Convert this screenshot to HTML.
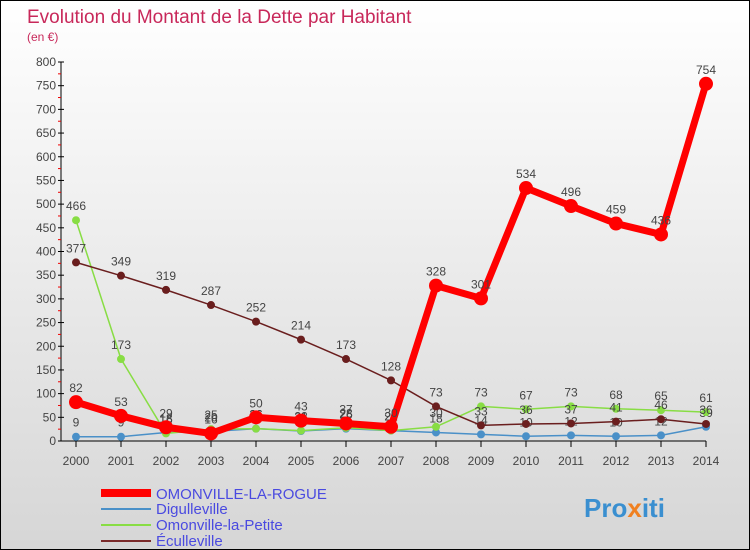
<!DOCTYPE html>
<html><head><meta charset="utf-8"><style>
body{margin:0}
#c{width:750px;height:550px;position:relative;overflow:hidden;box-sizing:border-box;border:1px solid #000;background:linear-gradient(#ffffff,#d6d6d6);font-family:"Liberation Sans",sans-serif}
</style></head><body>
<div id="c">
<svg id="s" width="750" height="550" style="position:absolute;left:0;top:0">
<text x="26" y="22" font-size="19" fill="#c8285a">Evolution du Montant de la Dette par Habitant</text>
<text x="26" y="40" font-size="12" fill="#c8285a">(en €)</text>
<g id="ax"></g><g id="ser"></g>
<g>
<line x1="100" y1="492" x2="150" y2="492" stroke="#ff0000" stroke-width="8"/>
<text x="155" y="498" font-size="15" fill="#4a4ae0">OMONVILLE-LA-ROGUE</text>
<line x1="100" y1="508" x2="150" y2="508" stroke="#4a90c8" stroke-width="2"/>
<text x="155" y="513" font-size="15" fill="#4a4ae0">Digulleville</text>
<line x1="100" y1="524" x2="150" y2="524" stroke="#88dd44" stroke-width="2"/>
<text x="155" y="529" font-size="15" fill="#4a4ae0">Omonville-la-Petite</text>
<line x1="100" y1="540" x2="150" y2="540" stroke="#7a2a2a" stroke-width="2"/>
<text x="155" y="545" font-size="15" fill="#4a4ae0">Éculleville</text>
</g>
<text x="583" y="516" font-size="26" font-weight="bold" fill="#3a8fd0">Pro<tspan fill="#f08020">x</tspan>iti</text>
</svg>
</div>
<script>
const years=[2000,2001,2002,2003,2004,2005,2006,2007,2008,2009,2010,2011,2012,2013,2014];
const rogue=[82,53,29,16,50,43,37,30,328,301,534,496,459,436,754];
const digul=[9,9,18,20,26,21,26,22,18,14,10,12,10,12,30];
const petite=[466,173,16,25,26,22,28,22,30,73,67,73,68,65,61];
const ecul=[377,349,319,287,252,214,173,128,73,33,36,37,41,46,36];
const yTicks=[0,50,100,150,200,250,300,350,400,450,500,550,600,650,700,750,800];
const NS="http://www.w3.org/2000/svg";
const X=i=>75+i*45, Y=v=>440-v*(379/800);
function mk(t,a,p,name){const e=document.createElementNS(NS,t);for(const k in a)e.setAttribute(k,a[k]);


p.appendChild(e);return e;}
const ax=document.getElementById('ax'),ser=document.getElementById('ser');
mk('line',{x1:60,y1:61,x2:60,y2:440,stroke:'#000'},ax,'y-axis');
mk('line',{x1:60,y1:440,x2:705,y2:440,stroke:'#000'},ax,'x-axis');
yTicks.forEach((v,i)=>{mk('line',{x1:57,y1:Y(v),x2:63,y2:Y(v),stroke:'#000'},ax,'y-tick');
if(i<yTicks.length-1)mk('line',{x1:57,y1:Y(v+25),x2:60,y2:Y(v+25),stroke:'#e00'},ax,'y-minor-tick');
const t=mk('text',{x:55,y:Y(v)+4,'font-size':12,fill:'#444','text-anchor':'end'},ax,'y-tick-label');t.textContent=v;});
years.forEach((y,i)=>{mk('line',{x1:X(i),y1:440,x2:X(i),y2:446,stroke:'#000'},ax,'x-tick');
const t=mk('text',{x:X(i),y:464,'font-size':12,fill:'#444','text-anchor':'middle'},ax,'x-tick-label');t.textContent=y;});
function series(d,col,w,r,name){
mk('polyline',{points:d.map((v,i)=>X(i)+','+Y(v)).join(' '),fill:'none',stroke:col,'stroke-width':w},ser,name+'-line');
d.forEach((v,i)=>{mk('circle',{cx:X(i),cy:Y(v),r:r,fill:col},ser,name+'-point');
const t=mk('text',{x:X(i),y:Y(v)-10,'font-size':12,fill:'#444','text-anchor':'middle'},ser,name+'-value');t.textContent=v;});}
series(digul,'#4a90c8',1.5,4,'digulleville');
series(petite,'#88dd44',1.5,4,'omonville-la-petite');
series(ecul,'#6a1e1e',1.5,4,'eculleville');
series(rogue,'#ff0000',7,7,'omonville-la-rogue');
</script>
</body></html>
